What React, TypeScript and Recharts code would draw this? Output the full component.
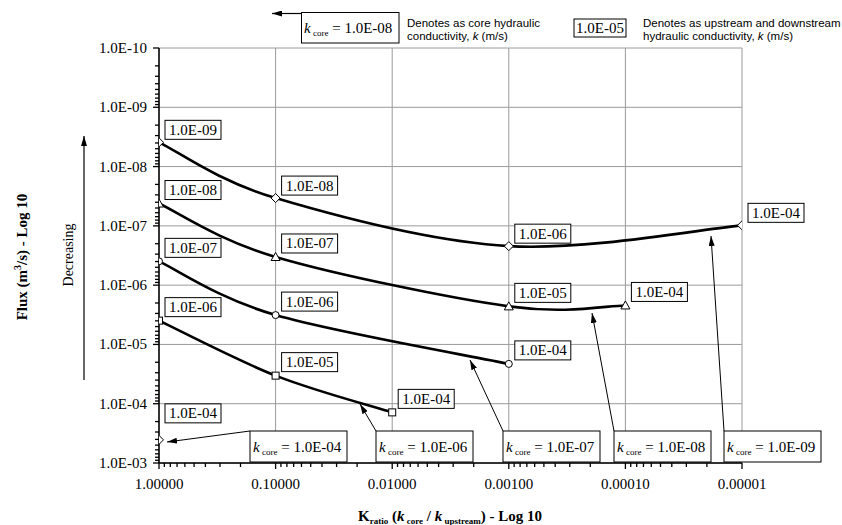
import React from "react";
import { LineChart, Line, XAxis, YAxis, CartesianGrid, LabelList } from "recharts";

// axis ticks (log 10)
const X_TICKS = [1, 0.1, 0.01, 0.001, 0.0001, 0.00001];
const X_TICK_LABELS = ["1.00000", "0.10000", "0.01000", "0.00100", "0.00010", "0.00001"];
const Y_TICKS = [1e-10, 1e-9, 1e-8, 1e-7, 1e-6, 1e-5, 1e-4, 1e-3];
const Y_TICK_LABELS = ["1.0E-10", "1.0E-09", "1.0E-08", "1.0E-07", "1.0E-06", "1.0E-05", "1.0E-04", "1.0E-03"];

// k core = 1.0E-09
const RATIO_CORE9 = [1, 0.1, 0.001, 0.00001];
const FLUX_CORE9 = [3.9e-9, 3.4e-8, 2.2e-7, 9.8e-8];
const KUP_CORE9 = ["1.0E-09", "1.0E-08", "1.0E-06", "1.0E-04"];

// k core = 1.0E-08
const RATIO_CORE8 = [1, 0.1, 0.001, 0.0001];
const FLUX_CORE8 = [4.2e-8, 3.35e-7, 2.28e-6, 2.2e-6];
const KUP_CORE8 = ["1.0E-08", "1.0E-07", "1.0E-05", "1.0E-04"];

// k core = 1.0E-07
const RATIO_CORE7 = [1, 0.1, 0.001];
const FLUX_CORE7 = [3.97e-7, 3.2e-6, 2.13e-5];
const KUP_CORE7 = ["1.0E-07", "1.0E-06", "1.0E-04"];

// k core = 1.0E-06
const RATIO_CORE6 = [1, 0.1, 0.01];
const FLUX_CORE6 = [3.97e-6, 3.36e-5, 1.4e-4];
const KUP_CORE6 = ["1.0E-06", "1.0E-05", "1.0E-04"];

// k core = 1.0E-04
const RATIO_CORE4 = [1];
const FLUX_CORE4 = [4.07e-4];
const KUP_CORE4 = ["1.0E-04"];

const SERIF = "Liberation Serif, Times New Roman, serif";
const SANS = "Liberation Sans, Arial, sans-serif";

const minorTicks = (lo: number, hi: number) => {
  const out: number[] = [];
  for (let e = lo; e < hi; e++) for (let m = 2; m <= 9; m++) out.push(m * Math.pow(10, e));
  return out;
};
const X_ALL = [...X_TICKS, ...minorTicks(-5, 0)];
const Y_ALL = [...Y_TICKS, ...minorTicks(-10, -3)];

const rows = (ratio: number[], flux: number[], kup: string[]) =>
  ratio.map((x, i) => ({ x, flux: flux[i], kup: kup[i] }));

type Shape = "diamond" | "triangle" | "circle" | "square";

const SERIES: { name: string; data: any[]; shape: Shape; labelGap: number }[] = [
  { name: "1.0E-09", data: rows(RATIO_CORE9, FLUX_CORE9, KUP_CORE9), shape: "diamond", labelGap: 3 },
  { name: "1.0E-08", data: rows(RATIO_CORE8, FLUX_CORE8, KUP_CORE8), shape: "triangle", labelGap: 4 },
  { name: "1.0E-07", data: rows(RATIO_CORE7, FLUX_CORE7, KUP_CORE7), shape: "circle", labelGap: 4 },
  { name: "1.0E-06", data: rows(RATIO_CORE6, FLUX_CORE6, KUP_CORE6), shape: "square", labelGap: 4 },
  { name: "1.0E-04", data: rows(RATIO_CORE4, FLUX_CORE4, KUP_CORE4), shape: "diamond", labelGap: 17 },
];

// Excel-style smoothed line (Catmull-Rom as cubic bezier)
function excelSmooth(context: any) {
  let pts: number[][] = [];
  return {
    areaStart() {},
    areaEnd() {},
    lineStart() {
      pts = [];
    },
    point(x: number, y: number) {
      pts.push([+x, +y]);
    },
    lineEnd() {
      if (!pts.length) return;
      context.moveTo(pts[0][0], pts[0][1]);
      for (let i = 0; i < pts.length - 1; i++) {
        const p0 = pts[Math.max(i - 1, 0)];
        const p1 = pts[i];
        const p2 = pts[i + 1];
        const p3 = pts[Math.min(i + 2, pts.length - 1)];
        context.bezierCurveTo(
          p1[0] + (p2[0] - p0[0]) / 6,
          p1[1] + (p2[1] - p0[1]) / 6,
          p2[0] - (p3[0] - p1[0]) / 6,
          p2[1] - (p3[1] - p1[1]) / 6,
          p2[0],
          p2[1]
        );
      }
    },
  };
}

const Marker = ({ cx, cy, shape }: { cx: number; cy: number; shape: Shape }) => {
  const st = { fill: "#fff", stroke: "#000", strokeWidth: 1 };
  if (shape === "diamond")
    return <path d={`M${cx},${cy - 4.5}L${cx + 4.5},${cy}L${cx},${cy + 4.5}L${cx - 4.5},${cy}Z`} {...st} />;
  if (shape === "triangle")
    return <path d={`M${cx},${cy - 4.5}L${cx + 4.5},${cy + 3.5}L${cx - 4.5},${cy + 3.5}Z`} {...st} />;
  if (shape === "square") return <rect x={cx - 3.5} y={cy - 3.5} width={7} height={7} {...st} />;
  return <circle cx={cx} cy={cy} r={3.5} {...st} />;
};

const pointLabel = (gap: number) => (props: any) => {
  const { x, y, value } = props;
  if (x == null || y == null) return null;
  const w = 56;
  const h = 19;
  const left = x + 6;
  const top = y - gap - h;
  return (
    <g>
      <rect x={left} y={top} width={w} height={h} fill="#fff" stroke="#000" strokeWidth={1} />
      <text x={left + w / 2} y={top + 14.5} textAnchor="middle" style={{ fontFamily: SERIF, fontSize: 15 }} fill="#000">
        {value}
      </text>
    </g>
  );
};

const XTick = (props: any) => {
  const { x, y, payload } = props;
  const i = X_TICKS.indexOf(payload.value);
  return (
    <g>
      <line x1={x} x2={x} y1={y} y2={y + (i >= 0 ? 6 : 4)} stroke="#000" strokeWidth={1.3} />
      {i >= 0 && (
        <text x={x} y={y + 26} textAnchor="middle" style={{ fontFamily: SERIF, fontSize: 15 }} fill="#000">
          {X_TICK_LABELS[i]}
        </text>
      )}
    </g>
  );
};

const YTick = (props: any) => {
  const { x, y, payload } = props;
  const i = Y_TICKS.indexOf(payload.value);
  return (
    <g>
      <line x1={x - (i >= 0 ? 6 : 4)} x2={x} y1={y} y2={y} stroke="#000" strokeWidth={1.3} />
      {i >= 0 && (
        <text x={x - 12} y={y + 5} textAnchor="end" style={{ fontFamily: SERIF, fontSize: 15 }} fill="#000">
          {Y_TICK_LABELS[i]}
        </text>
      )}
    </g>
  );
};

const scaleOf = (axis: any) => {
  const s = axis?.scale;
  return (v: number) => (typeof s === "function" ? s(v) : s?.map ? s.map(v) : 0);
};

const KCore = ({ x, y, value }: { x: number; y: number; value: string }) => (
  <text x={x} y={y} style={{ fontFamily: SERIF, fontSize: 15 }} fill="#000">
    <tspan fontStyle="italic">k</tspan>
    <tspan fontSize={9} dy={3}> core</tspan>
    <tspan dy={-3}> = {value}</tspan>
  </text>
);

const CALLOUTS = [
  { value: "1.0E-04", box: 250, tip: [167, 442] },
  { value: "1.0E-06", box: 376, tip: [360, 404] },
  { value: "1.0E-07", box: 503, tip: [470, 360] },
  { value: "1.0E-08", box: 614, tip: [592, 313] },
  { value: "1.0E-09", box: 724, tip: [711, 236] },
];

export default function App() {
  return (
    <div style={{ position: "absolute", left: 0, top: 0, width: 842, height: 525, background: "#fff" }}>
      <LineChart width={842} height={525} margin={{ top: 48, right: 100, bottom: 32, left: 99 }}>
        <CartesianGrid
          stroke="#9a9a9a"
          strokeWidth={1}
          verticalCoordinatesGenerator={({ xAxis }: any) => X_TICKS.map(scaleOf(xAxis))}
          horizontalCoordinatesGenerator={({ yAxis }: any) => Y_TICKS.map(scaleOf(yAxis))}
        />
        <XAxis
          dataKey="x"
          type="number"
          scale="log"
          domain={[0.00001, 1]}
          reversed
          allowDataOverflow
          ticks={X_ALL}
          interval={0}
          tick={<XTick />}
          tickLine={false}
          tickSize={0}
          tickMargin={0}
          height={30}
          axisLine={{ stroke: "#000", strokeWidth: 1.5 }}
        />
        <YAxis
          dataKey="flux"
          type="number"
          scale="log"
          domain={[1e-10, 1e-3]}
          reversed
          allowDataOverflow
          ticks={Y_ALL}
          interval={0}
          tick={<YTick />}
          tickLine={false}
          tickSize={0}
          tickMargin={0}
          width={60}
          axisLine={{ stroke: "#000", strokeWidth: 1.5 }}
        />
        {SERIES.map((s) => (
          <Line
            key={s.name}
            data={s.data}
            dataKey="flux"
            name={s.name}
            type={excelSmooth as any}
            stroke="#000"
            strokeWidth={2.6}
            isAnimationActive={false}
            dot={(p: any) => <Marker key={`${s.name}-${p.index}`} cx={p.cx} cy={p.cy} shape={s.shape} />}
            activeDot={false}
          >
            <LabelList dataKey="kup" content={pointLabel(s.labelGap)} />
          </Line>
        ))}
      </LineChart>

      <svg
        width={842}
        height={525}
        style={{ position: "absolute", left: 0, top: 0, pointerEvents: "none" }}
      >
        <defs>
          <marker id="head" viewBox="0 0 10 6" refX="10" refY="3" markerWidth="10" markerHeight="6" markerUnits="userSpaceOnUse" orient="auto">
            <path d="M0,0L10,3L0,6Z" fill="#000" />
          </marker>
        </defs>

        {/* header legend */}
        <line x1={302} y1={13.5} x2={272} y2={13.5} stroke="#000" strokeWidth={1.2} markerEnd="url(#head)" />
        <rect x={301.5} y={12.5} width={97.5} height={30.5} fill="#fff" stroke="#000" />
        <KCore x={304} y={33} value="1.0E-08" />
        <text style={{ fontFamily: SANS, fontSize: 11.5 }} fill="#000">
          <tspan x={407} y={27}>Denotes as core hydraulic</tspan>
          <tspan x={407} y={40}>conductivity, <tspan fontStyle="italic">k</tspan>  (m/s)</tspan>
        </text>
        <rect x={574} y={19} width={52} height={18} fill="#fff" stroke="#000" />
        <text x={600} y={33} textAnchor="middle" style={{ fontFamily: SERIF, fontSize: 15 }} fill="#000">1.0E-05</text>
        <text style={{ fontFamily: SANS, fontSize: 11.5 }} fill="#000">
          <tspan x={643} y={27}>Denotes as upstream and downstream</tspan>
          <tspan x={643} y={40}>hydraulic conductivity, <tspan fontStyle="italic">k</tspan>  (m/s)</tspan>
        </text>

        {/* y axis titles */}
        <text
          transform="translate(27,257) rotate(-90)"
          textAnchor="middle"
          style={{ fontFamily: SERIF, fontSize: 15, fontWeight: "bold" }}
          fill="#000"
        >
          Flux (m<tspan fontSize={10} dy={-6}>3</tspan><tspan dy={6}>/s) - Log 10</tspan>
        </text>
        <text transform="translate(73,255) rotate(-90)" textAnchor="middle" style={{ fontFamily: SERIF, fontSize: 14 }} fill="#000">
          Decreasing
        </text>
        <line x1={84} y1={380} x2={84} y2={136} stroke="#000" strokeWidth={1.2} markerEnd="url(#head)" />

        {/* x axis title */}
        <text x={450} y={521} textAnchor="middle" style={{ fontFamily: SERIF, fontSize: 15, fontWeight: "bold" }} fill="#000">
          K<tspan fontSize={9} dy={3}>ratio</tspan>
          <tspan dy={-3}> (</tspan>
          <tspan fontStyle="italic">k</tspan>
          <tspan fontSize={9} dy={3}> core</tspan>
          <tspan dy={-3}> / </tspan>
          <tspan fontStyle="italic">k</tspan>
          <tspan fontSize={9} dy={3}> upstream</tspan>
          <tspan dy={-3}>) - Log 10</tspan>
        </text>

        {/* k core callouts */}
        {CALLOUTS.map((c) => (
          <g key={c.value}>
            <line x1={c.box} y1={431} x2={c.tip[0]} y2={c.tip[1]} stroke="#000" strokeWidth={1} markerEnd="url(#head)" />
            <rect x={c.box} y={431} width={97} height={31} fill="#fff" stroke="#000" />
            <KCore x={c.box + 3} y={452} value={c.value} />
          </g>
        ))}
      </svg>
    </div>
  );
}
